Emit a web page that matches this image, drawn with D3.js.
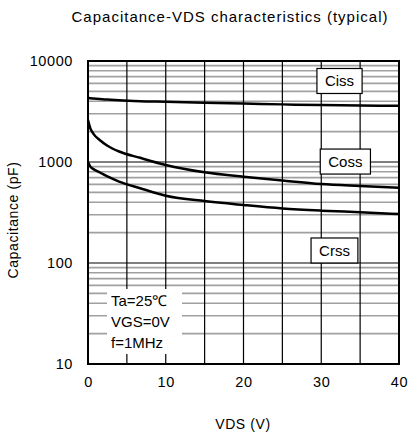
<!DOCTYPE html>
<html>
<head>
<meta charset="utf-8">
<script src="https://cdn.jsdelivr.net/npm/d3@7"></script>
<style>
  body { margin: 0; background: #fff; }
  text { font-family: "Liberation Sans", Arial, sans-serif; fill: #000; }
</style>
</head>
<body>
<svg id="chart" width="409" height="434"></svg>
<script>
// values
const vds = [0, 0.3, 0.7, 1.5, 2.5, 4, 6.7, 10, 15, 20, 25, 30, 35, 40];
const ciss = [4300, 4280, 4250, 4200, 4150, 4080, 4000, 3950, 3860, 3790, 3720, 3660, 3630, 3600];
const coss = [2600, 2150, 1900, 1650, 1450, 1270, 1100, 935, 790, 714, 655, 605, 578, 555];
const crss = [1000, 900, 850, 790, 720, 640, 550, 464, 410, 375, 347, 330, 318, 305];

const xTicks = [0, 10, 20, 30, 40];
const yTicks = [10, 100, 1000, 10000];
const seriesLabels = [
    { name: 'Ciss', v: 32.35, c: 6340 },
    { name: 'Coss', v: 33.1, c: 1010 },
    { name: 'Crss', v: 31.7, c: 133 }
];
const conditions = ['Ta=25\u2103', 'VGS=0V', 'f=1MHz'];

const margin = { left: 88, right: 10, top: 61, bottom: 70 };
const width = 409, height = 434;

const svg = d3.select('#chart');

const x = d3.scaleLinear().domain([0, 40]).range([margin.left, width - margin.right]);
const y = d3.scaleLog().domain([10, 10000]).range([height - margin.bottom, margin.top]);

const grid = svg.append('g');

// minor horizontal lines
const minor = [];
[10, 100, 1000].forEach(d => { for (let k = 2; k <= 9; k++) minor.push(d * k); });
grid.selectAll('line.minor')
    .data(minor)
    .enter()
    .append('line')
    .attr('x1', x(0)).attr('x2', x(40))
    .attr('y1', d => y(d)).attr('y2', d => y(d))
    .attr('stroke', '#a0a0a0')
    .attr('stroke-width', 1.6);

// decade lines
grid.selectAll('line.major')
    .data([100, 1000])
    .enter()
    .append('line')
    .attr('x1', x(0)).attr('x2', x(40))
    .attr('y1', d => y(d)).attr('y2', d => y(d))
    .attr('stroke', '#000')
    .attr('stroke-width', 1.2);

// vertical lines every 5 V
grid.selectAll('line.vert')
    .data(d3.range(5, 40, 5))
    .enter()
    .append('line')
    .attr('x1', d => x(d)).attr('x2', d => x(d))
    .attr('y1', y(10)).attr('y2', y(10000))
    .attr('stroke', '#000')
    .attr('stroke-width', 1.2);

// white box behind the test conditions
svg.append('rect')
    .attr('x', 107).attr('y', 289)
    .attr('width', 75).attr('height', 65)
    .attr('fill', '#fff');

svg.append('g')
    .selectAll('text')
    .data(conditions)
    .enter()
    .append('text')
    .attr('x', 111)
    .attr('y', (d, i) => 306 + i * 21)
    .attr('font-size', 15)
    .text(d => d);

// curves
const line = d3.line()
    .x((d, i) => x(vds[i]))
    .y(d => y(d))
    .curve(d3.curveMonotoneX);

svg.append('g')
    .selectAll('path')
    .data([ciss, coss, crss])
    .enter()
    .append('path')
    .attr('d', line)
    .attr('fill', 'none')
    .attr('stroke', '#000')
    .attr('stroke-width', 2.5);

// plot frame
svg.append('rect')
    .attr('x', x(0)).attr('y', y(10000))
    .attr('width', x(40) - x(0)).attr('height', y(10) - y(10000))
    .attr('fill', 'none')
    .attr('stroke', '#000')
    .attr('stroke-width', 2);

// series label boxes
const lab = svg.append('g')
    .selectAll('g')
    .data(seriesLabels)
    .enter()
    .append('g')
    .attr('transform', d => `translate(${x(d.v)},${y(d.c)})`);

lab.append('text')
    .attr('text-anchor', 'middle')
    .attr('dy', '0.36em')
    .attr('font-size', 15)
    .text(d => d.name);

lab.each(function () {
    const g = d3.select(this);
    const bb = g.select('text').node().getBBox();
    g.insert('rect', 'text')
        .attr('x', bb.x - 8).attr('y', -12.5)
        .attr('width', bb.width + 16).attr('height', 25)
        .attr('fill', '#fff')
        .attr('stroke', '#000')
        .attr('stroke-width', 1.2);
});

// axes (labels only)
const xAxis = svg.append('g')
    .attr('transform', `translate(0,${y(10)})`)
    .call(d3.axisBottom(x).tickValues(xTicks).tickSize(0).tickPadding(13).tickFormat(d3.format('d')));
const yAxis = svg.append('g')
    .attr('transform', `translate(${x(0)},0)`)
    .call(d3.axisLeft(y).tickValues(yTicks).tickSize(0).tickPadding(15).tickFormat(d3.format('d')));
[xAxis, yAxis].forEach(a => {
    a.select('.domain').remove();
    a.selectAll('text')
        .attr('font-size', 14.5)
        .attr('letter-spacing', 0.6)
        .attr('font-family', '"Liberation Sans", Arial, sans-serif');
});

svg.append('text')
    .attr('x', 230).attr('y', 22)
    .attr('text-anchor', 'middle')
    .attr('font-size', 15)
    .attr('letter-spacing', 1)
    .text('Capacitance-VDS characteristics (typical)');

svg.append('text')
    .attr('x', 243).attr('y', 429)
    .attr('text-anchor', 'middle')
    .attr('font-size', 14)
    .attr('letter-spacing', 0.6)
    .text('VDS (V)');

svg.append('text')
    .attr('transform', 'translate(18,220) rotate(-90)')
    .attr('text-anchor', 'middle')
    .attr('font-size', 14)
    .attr('letter-spacing', 0.6)
    .text('Capacitance (pF)');
</script>
</body>
</html>
